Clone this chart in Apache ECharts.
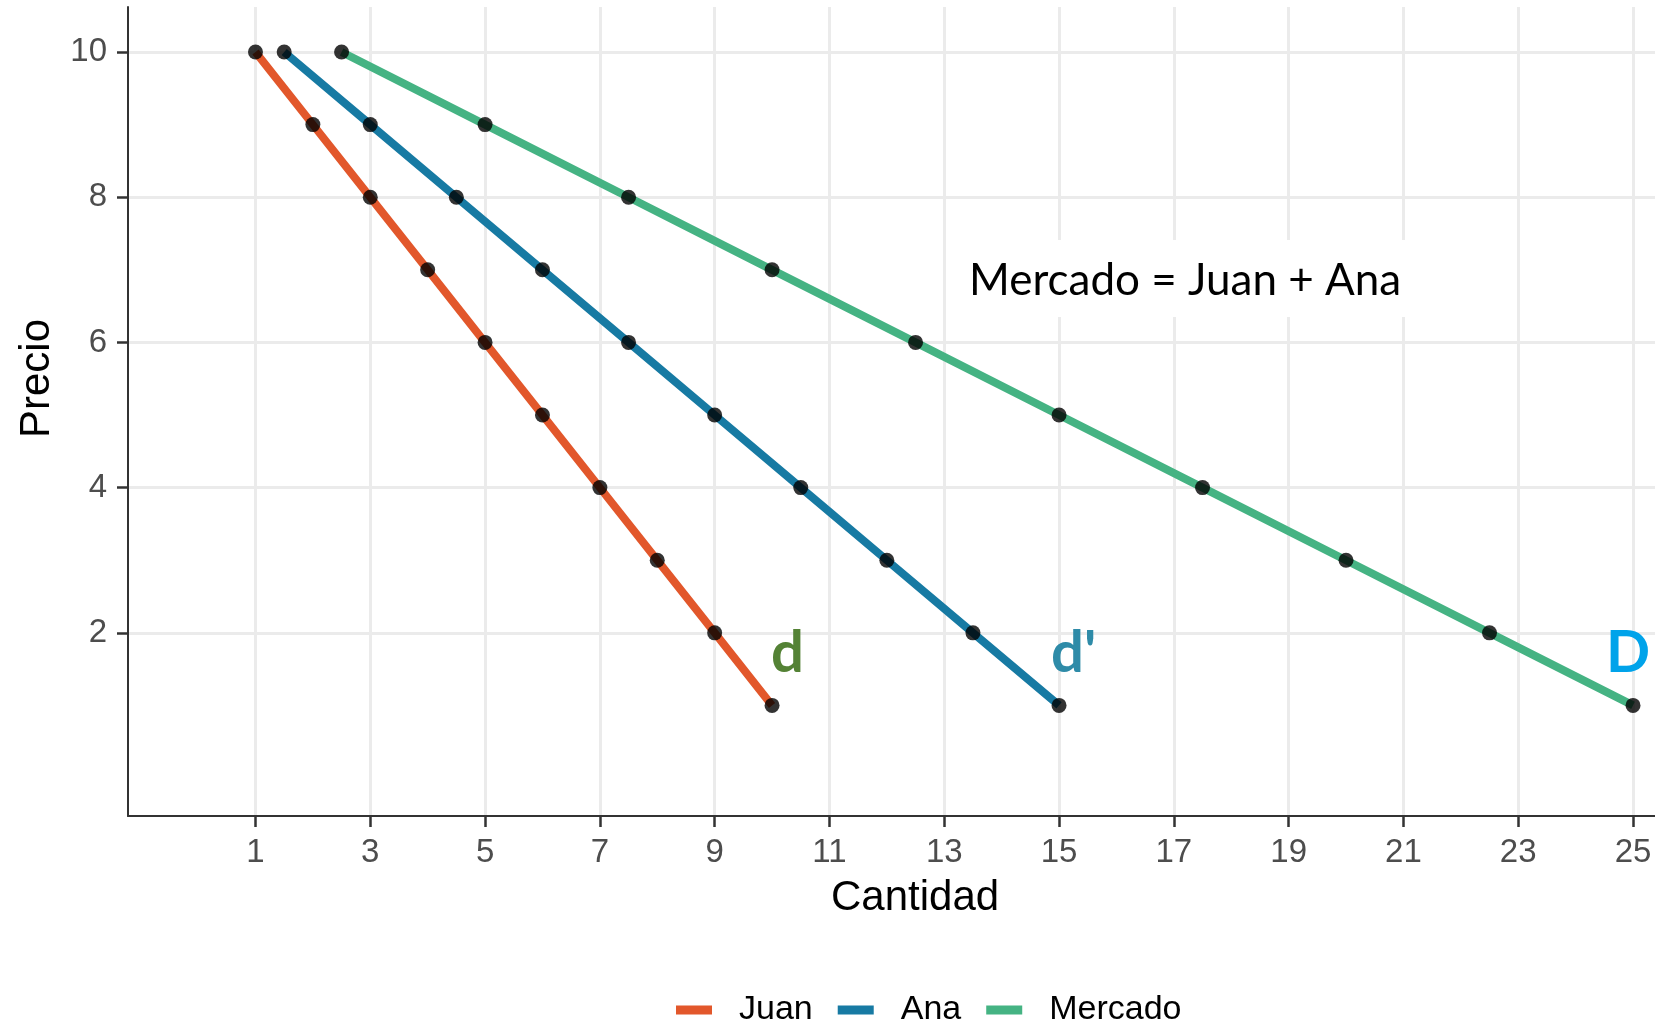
<!DOCTYPE html>
<html>
<head>
<meta charset="utf-8">
<script src="https://cdn.jsdelivr.net/npm/echarts@6/dist/echarts.min.js"></script>
<style>
html,body{margin:0;padding:0;background:#fff;}
#chart{width:1655px;height:1022px;}
</style>
</head>
<body>
<div id="chart"></div>
<script>
// ---- data ----
var seriesNames = ['Juan', 'Ana', 'Mercado'];
var precio = [10, 9, 8, 7, 6, 5, 4, 3, 2, 1];
var cantidadJuan = [1, 2, 3, 4, 5, 6, 7, 8, 9, 10];
var cantidadAna = [1.5, 3, 4.5, 6, 7.5, 9, 10.5, 12, 13.5, 15];
var cantidadMercado = [2.5, 5, 7.5, 10, 12.5, 15, 17.5, 20, 22.5, 25];
var xTicks = [1, 3, 5, 7, 9, 11, 13, 15, 17, 19, 21, 23, 25];
var yTicks = [2, 4, 6, 8, 10];
var colors = ['#E2572B', '#177AA3', '#45B383'];

function pairs(xs, ys) { return xs.map(function (x, i) { return [x, ys[i]]; }); }
var allQ = [cantidadJuan, cantidadAna, cantidadMercado];

var series = [];
allQ.forEach(function (q, i) {
  series.push({
    name: seriesNames[i], type: 'line', data: pairs(q, precio),
    showSymbol: false, symbol: 'none', z: 2,
    lineStyle: { color: colors[i], width: 8 },
    itemStyle: { color: colors[i] },
    animation: false
  });
});
allQ.forEach(function (q, i) {
  series.push({
    name: seriesNames[i] + '_pts', type: 'scatter', data: pairs(q, precio),
    symbol: 'circle', symbolSize: 15, z: 3,
    itemStyle: { color: '#000' }, animation: false
  });
});

var chart = echarts.init(document.getElementById('chart'), null, { renderer: 'canvas' });
var axisFont = 'Liberation Sans, Arial, sans-serif';
chart.setOption({
  backgroundColor: '#fff',
  animation: false,
  grid: { left: 128, right: 0, top: 7, bottom: 206, containLabel: false },
  xAxis: {
    type: 'value', min: -1.221, max: 25.383,
    axisLine: { show: true, onZero: false, lineStyle: { color: '#333', width: 2 } },
    axisTick: { show: true, length: 11, customValues: xTicks, lineStyle: { color: '#333', width: 2.5 } },
    axisLabel: { customValues: xTicks, margin: 20, color: '#4D4D4D', fontSize: 33, fontFamily: axisFont },
    splitLine: { show: true, lineStyle: { color: '#EBEBEB', width: 3 } }
  },
  yAxis: {
    type: 'value', min: -0.523, max: 10.62,
    axisLine: { show: true, onZero: false, lineStyle: { color: '#333', width: 2 } },
    axisTick: { show: true, length: 11, customValues: yTicks, lineStyle: { color: '#333', width: 2.5 } },
    axisLabel: { customValues: yTicks, margin: 21, color: '#4D4D4D', fontSize: 33, fontFamily: axisFont },
    splitLine: { show: true, lineStyle: { color: '#EBEBEB', width: 3 } }
  },
  legend: {
    data: seriesNames, left: 671, top: 988,
    icon: 'rect', itemWidth: 36, itemHeight: 9, itemGap: 25,
    textStyle: { color: '#000', fontSize: 34, fontFamily: axisFont, padding: [0, 0, 0, 22] }
  },
  graphic: [
    { type: 'text', z: 100, left: 831, top: 877, style: { text: 'Cantidad', fontSize: 42, fontFamily: axisFont, fill: '#000' } },
    { type: 'text', z: 100, x: 16, y: 438, rotation: Math.PI / 2, style: { text: 'Precio', fontSize: 42, fontFamily: axisFont, fill: '#000' } },
    { type: 'rect', z: 99, shape: { x: 948, y: 240, width: 464, height: 77 }, style: { fill: '#fff' } },
    { type: 'text', z: 100, left: 969, top: 259, style: { text: 'Mercado = Juan + Ana', fontSize: 44, fontFamily: 'Lato, sans-serif', fill: '#000' } },
    { type: 'text', z: 100, left: 771, top: 624, style: { text: 'd', fontSize: 58, fontWeight: 'bold', fontFamily: 'Lato, sans-serif', fill: '#548235' } },
    { type: 'text', z: 100, left: 1051, top: 624, style: { text: "d'", fontSize: 58, fontWeight: 'bold', fontFamily: 'Lato, sans-serif', fill: '#2E8BA8' } },
    { type: 'text', z: 100, left: 1606, top: 624, style: { text: 'D', fontSize: 58, fontWeight: 'bold', fontFamily: 'Lato, sans-serif', fill: '#00A3EA' } }
  ],
  series: series
});
</script>
</body>
</html>
